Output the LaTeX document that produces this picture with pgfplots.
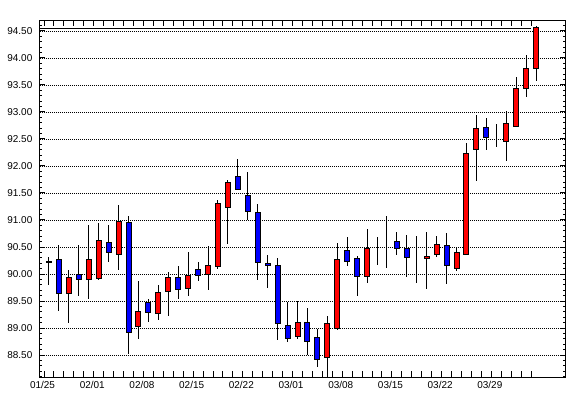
\documentclass[border=0pt]{standalone}
\usepackage{fontspec}
\setmainfont{Liberation Sans}
\usepackage{pgfplots}
\pgfplotsset{compat=1.18}
\usepackage{pgfplotstable}

\pgfplotstableread{
i O H L C
0 90.23 90.32 89.79 90.22
1 90.26 90.54 89.31 89.63
2 89.63 90.08 89.10 89.94
3 90.00 90.54 89.60 89.89
4 89.89 90.91 89.53 90.26
5 89.91 90.95 89.89 90.62
6 90.59 90.91 90.23 90.39
7 90.37 91.28 90.07 90.98
8 90.96 91.08 88.52 88.91
9 89.02 89.88 88.80 89.30
10 89.48 89.54 89.12 89.28
11 89.26 89.80 89.14 89.65
12 89.67 90.04 89.22 89.94
13 89.93 90.14 89.54 89.72
14 89.74 90.41 89.59 89.98
15 90.09 90.23 89.88 89.98
16 90.00 90.52 89.70 90.15
17 90.13 91.37 90.10 91.30
18 91.24 91.74 90.56 91.69
19 91.80 92.13 91.55 91.57
20 91.46 91.89 91.00 91.15
21 91.13 91.30 89.89 90.22
22 90.20 90.35 89.74 90.15
23 90.15 90.30 88.78 89.09
24 89.04 89.48 88.74 88.80
25 88.85 89.50 88.80 89.11
26 89.10 89.37 88.51 88.75
27 88.83 88.98 88.28 88.42
28 88.46 89.23 88.10 89.09
29 88.99 90.58 88.96 90.27
30 90.44 90.69 90.14 90.23
31 90.29 90.34 89.60 89.96
32 89.96 90.83 89.83 90.48
33 90.50 90.68 90.17 90.50
34 90.50 91.08 90.12 90.50
35 90.61 90.78 90.35 90.48
36 90.48 90.72 89.94 90.30
37 90.30 90.70 89.83 90.30
38 90.28 90.78 89.72 90.33
39 90.37 90.70 90.31 90.54
40 90.52 90.76 89.81 90.15
41 90.11 90.48 90.06 90.39
42 90.37 92.43 90.35 92.24
43 92.30 92.94 91.73 92.69
44 92.72 92.89 92.30 92.52
45 92.44 92.78 92.35 92.44
46 92.46 93.02 92.09 92.78
47 92.74 93.65 92.74 93.43
48 93.44 94.06 93.28 93.81
49 93.81 94.60 93.57 94.57
}\candles

\begin{document}
\begin{tikzpicture}
\pgfplotsset{
  base/.style={
    scale only axis, width=525bp, height=356.5bp,
    xmin=-0.905, xmax=51.91, ymin=88.093, ymax=94.694,
    enlargelimits=false,
    at={(0,0)}, anchor=south west,
  }
}
\path[use as bounding box] (-40bp,-21bp) rectangle (530bp,377bp);
\begin{axis}[base,
  axis line style={black, line width=1bp},
  tick align=inside,
  xtick pos=both, ytick pos=both,
  xticklabel pos=lower, yticklabel pos=left,
  major tick length=5.5bp, minor tick length=2.5bp,
  every tick/.style={black, line width=1bp},
  xtick={-0.5,0.5,...,48.5},
  xticklabels={},
  extra x ticks={-0.65,4.35,9.35,14.35,19.35,24.35,29.35,34.35,39.35,44.35},
  extra x tick labels={01/25,02/01,02/08,02/15,02/22,03/01,03/08,03/15,03/22,03/29},
  extra x tick style={tick style={draw=none}},
  xticklabel style={font=\fontsize{10}{12}\selectfont, inner sep=0pt, anchor=north, yshift=-4bp},
  ytick={88.5,89,89.5,90,90.5,91,91.5,92,92.5,93,93.5,94,94.5},
  minor ytick={88.1,88.2,...,94.65},
  yticklabel style={font=\fontsize{10}{12}\selectfont, inner sep=0pt, anchor=east, xshift=-7.5bp,
    /pgf/number format/.cd, fixed, fixed zerofill, precision=2, assume math mode=true},
  ymajorgrids,
  major grid style={black, line width=0.8bp, dash pattern=on 1bp off 1bp},
]
\addplot[black, line width=1.2bp] coordinates {(-0.905,94.55) (48.45,94.55)};
\addplot[draw=none, mark=none,
  error bars/.cd, y dir=both, y explicit, error mark=none,
  error bar style={draw=black, solid, line width=1bp}]
  table[x=i, y expr={(\thisrow{H}+\thisrow{L})/2}, y error expr={(\thisrow{H}-\thisrow{L})/2}] {\candles};
\end{axis}
\begin{axis}[base, hide axis, ybar stacked, bar width=5bp]
\addplot[draw=none, fill=none] table[x=i, y expr={min(\thisrow{O},\thisrow{C})}] {\candles};
\addplot[draw=black, line width=1bp, fill=red] table[x=i, y expr={max(\thisrow{C}-\thisrow{O},0)}] {\candles};
\addplot[draw=black, line width=1bp, fill=blue] table[x=i, y expr={max(\thisrow{O}-\thisrow{C},0)}] {\candles};
\end{axis}
\end{tikzpicture}
\end{document}
